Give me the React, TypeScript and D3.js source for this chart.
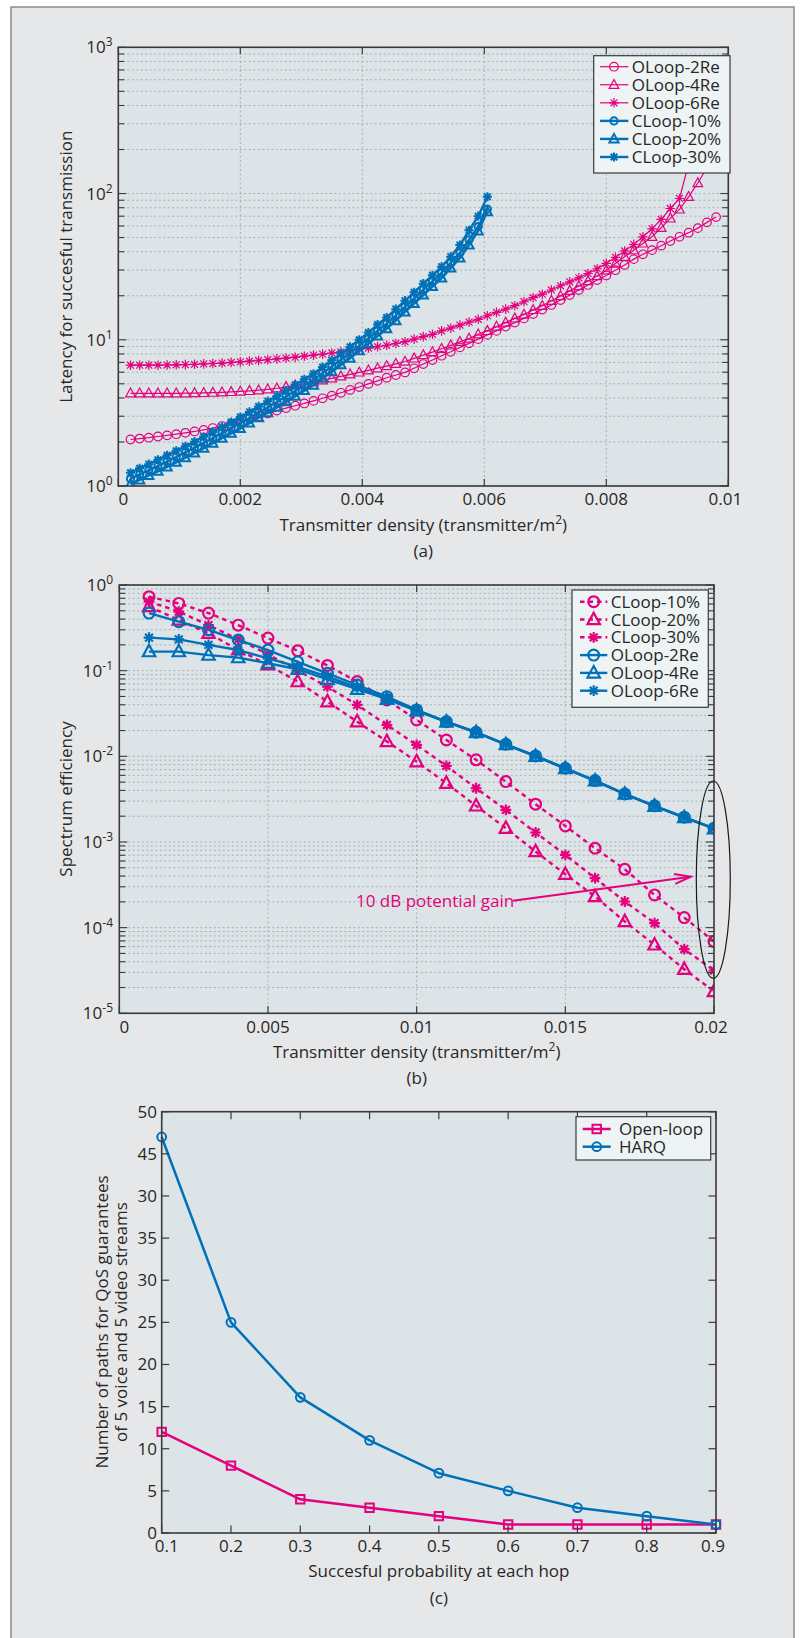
import React from 'react';
import * as d3 from 'd3';

// ---------------- DATA ----------------
// (a) Latency vs transmitter density
const xA = [0.0002, 0.00035, 0.0005, 0.00065, 0.0008, 0.00095, 0.0011, 0.00125, 0.0014, 0.00155, 0.0017, 0.00185, 0.002, 0.00215, 0.0023, 0.00245, 0.0026, 0.00275, 0.0029, 0.00305, 0.0032, 0.00335, 0.0035, 0.00365, 0.0038, 0.00395, 0.0041, 0.00425, 0.0044, 0.00455, 0.0047, 0.00485, 0.005, 0.00515, 0.0053, 0.00545, 0.0056, 0.00575, 0.0059, 0.00605, 0.0062, 0.00635, 0.0065, 0.00665, 0.0068, 0.00695, 0.0071, 0.00725, 0.0074, 0.00755, 0.0077, 0.00785, 0.008, 0.00815, 0.0083, 0.00845, 0.0086, 0.00875, 0.0089, 0.00905, 0.0092, 0.00935, 0.0095, 0.00965, 0.0098];
const oloop2A = [2.08, 2.11, 2.14, 2.18, 2.22, 2.26, 2.31, 2.36, 2.42, 2.49, 2.57, 2.66, 2.75, 2.87, 3.0, 3.13, 3.28, 3.41, 3.54, 3.67, 3.82, 3.98, 4.15, 4.34, 4.54, 4.75, 4.99, 5.24, 5.5, 5.74, 5.98, 6.38, 6.82, 7.27, 7.78, 8.28, 8.87, 9.45, 10.1, 10.8, 11.5, 12.3, 13.1, 14, 15, 16.1, 17.3, 18.7, 20.2, 21.9, 23.7, 25.6, 27.5, 29.9, 32.5, 35.6, 38.4, 41, 44, 47.3, 50.6, 54, 58, 63.5, 69];
const oloop4A = [4.3, 4.3, 4.3, 4.3, 4.3, 4.3, 4.31, 4.32, 4.33, 4.35, 4.37, 4.4, 4.43, 4.47, 4.52, 4.58, 4.66, 4.76, 4.88, 5.0, 5.14, 5.29, 5.45, 5.62, 5.8, 5.98, 6.18, 6.39, 6.61, 6.85, 7.1, 7.46, 7.86, 8.24, 8.68, 9.15, 9.69, 10.2, 10.9, 11.5, 12.3, 13.1, 14, 14.9, 16, 17.1, 18.5, 19.9, 21.6, 23.3, 25.2, 27.3, 29.9, 33.2, 36.9, 41, 45.6, 50.6, 58.3, 67.6, 77.9, 94.9, 118, 150, 190];
const oloop6A = [6.7, 6.7, 6.7, 6.7, 6.72, 6.74, 6.76, 6.8, 6.84, 6.88, 6.93, 7.0, 7.06, 7.14, 7.22, 7.3, 7.4, 7.5, 7.6, 7.72, 7.85, 7.98, 8.12, 8.27, 8.43, 8.6, 8.78, 8.97, 9.17, 9.43, 9.7, 10.1, 10.5, 10.9, 11.5, 12, 12.6, 13.2, 13.8, 14.6, 15.4, 16.2, 17.1, 18.2, 19.4, 20.5, 21.9, 23.4, 24.9, 26.5, 28.4, 30.6, 33.3, 36.6, 40.5, 44.9, 50.6, 57.4, 66.5, 79, 92.5, 160, 230, 330, 470];
const cloop10A = [1.12, 1.2, 1.28, 1.37, 1.47, 1.58, 1.7, 1.83, 1.97, 2.13, 2.3, 2.49, 2.69, 2.92, 3.18, 3.45, 3.75, 4.09, 4.47, 4.88, 5.32, 5.92, 6.58, 7.31, 8.13, 9.12, 10.2, 11.5, 12.9, 14.7, 16.8, 19.2, 22, 25.1, 28.7, 33.6, 39.3, 48.3, 59.4, 78.3];
const cloop20A = [1.03, 1.1, 1.18, 1.26, 1.35, 1.45, 1.56, 1.68, 1.81, 1.96, 2.12, 2.29, 2.47, 2.69, 2.93, 3.17, 3.45, 3.76, 4.11, 4.49, 4.89, 5.45, 6.05, 6.73, 7.48, 8.39, 9.38, 10.6, 11.9, 13.5, 15.5, 17.7, 20.2, 23.1, 26.4, 30.9, 36.2, 44.4, 55.5, 75];
const cloop30A = [1.23, 1.32, 1.41, 1.51, 1.62, 1.74, 1.87, 2.01, 2.17, 2.34, 2.53, 2.74, 2.96, 3.21, 3.5, 3.8, 4.13, 4.5, 4.92, 5.37, 5.85, 6.51, 7.24, 8.04, 8.94, 10.0, 11.2, 12.7, 14.2, 16.2, 18.5, 21.1, 24.2, 27.6, 31.6, 37, 44.4, 56, 70, 95];
const xTicksA = [0, 0.002, 0.004, 0.006, 0.008, 0.01];
const xTickLabelsA = ['0', '0.002', '0.004', '0.006', '0.008', '0.01'];
const yExpA = [0, 1, 2, 3];

// (b) Spectrum efficiency vs transmitter density
const xB = [0.001, 0.002, 0.003, 0.004, 0.005, 0.006, 0.007, 0.008, 0.009, 0.01, 0.011, 0.012, 0.013, 0.014, 0.015, 0.016, 0.017, 0.018, 0.019, 0.02];
const cloop10B = [0.73, 0.61, 0.47, 0.34, 0.24, 0.171, 0.115, 0.0745, 0.0455, 0.0266, 0.0155, 0.0091, 0.00507, 0.00276, 0.00154, 0.000845, 0.00048, 0.000241, 0.000131, 6.9e-5];
const cloop20B = [0.56, 0.39, 0.273, 0.175, 0.117, 0.0745, 0.0435, 0.0254, 0.0149, 0.00867, 0.00485, 0.00264, 0.00145, 0.000773, 0.00042, 0.000231, 0.000118, 6.3e-5, 3.27e-5, 1.8e-5];
const cloop30B = [0.64, 0.49, 0.34, 0.232, 0.155, 0.1, 0.065, 0.0398, 0.0232, 0.0136, 0.00773, 0.00424, 0.00237, 0.00129, 0.000707, 0.000378, 0.000202, 0.000113, 5.6e-5, 3.16e-5];
const oloop2B = [0.47, 0.373, 0.3, 0.228, 0.174, 0.127, 0.093, 0.068, 0.0497, 0.0348, 0.0254, 0.0191, 0.0138, 0.0101, 0.00726, 0.00521, 0.00364, 0.00264, 0.00195, 0.00145];
const oloop4B = [0.167, 0.167, 0.152, 0.142, 0.122, 0.104, 0.079, 0.0607, 0.0464, 0.034, 0.0252, 0.019, 0.0137, 0.01, 0.0072, 0.00518, 0.00362, 0.00262, 0.00193, 0.00143];
const oloop6B = [0.243, 0.232, 0.2, 0.174, 0.139, 0.111, 0.085, 0.064, 0.0476, 0.0344, 0.0253, 0.019, 0.0138, 0.0101, 0.00723, 0.0052, 0.00363, 0.00263, 0.00194, 0.00144];
const xTicksB = [0, 0.005, 0.01, 0.015, 0.02];
const xTickLabelsB = ['0', '0.005', '0.01', '0.015', '0.02'];
const yExpB = [0, -1, -2, -3, -4, -5];
const annotTextB = '10 dB potential gain';
const annotTextPosB = [0.00796, 2.05e-4];
const annotArrowFromB = [0.01324, 2.06e-4];
const annotArrowToB = [0.01922, 3.93e-4];
const ellipseB = { x: 0.02, yTop: 5.15e-3, yBottom: 2.57e-5 };

// (c) Number of paths vs success probability
const probC = [0.1, 0.2, 0.3, 0.4, 0.5, 0.6, 0.7, 0.8, 0.9];
const openLoopC = [12, 8, 4, 3, 2, 1, 1, 1, 1];
const harqC = [47, 25, 16.1, 11, 7.1, 5, 3, 2, 1];
const xTickLabelsC = ['0.1', '0.2', '0.3', '0.4', '0.5', '0.6', '0.7', '0.8', '0.9'];
const yTicksC = [0, 5, 10, 15, 20, 25, 30, 35, 40, 45, 50];
const yTickLabelsC = ['0', '5', '10', '15', '20', '25', '30', '35', '30', '45', '50'];

// ---------------- STYLE ----------------
const PINK = '#e5007e';
const BLUE = '#0071b8';
const FONT = "'Open Sans', 'DejaVu Sans', sans-serif";
const TXT = '#272727';
const PLOT_BG = '#dce4e7';
const FRAME_BG = '#e6e7e9';
const LEG_BG = '#eef3f4';
const AXIS = '#3a3a3a';
const GRID = '#a9b0b3';

type MType = 'circle' | 'triangle' | 'star' | 'square';

function Mk({ t, x, y, s, c, w }: { t: MType; x: number; y: number; s: number; c: string; w: number }) {
  if (t === 'circle') return <circle cx={x} cy={y} r={s} fill="none" stroke={c} strokeWidth={w} />;
  let d = '';
  if (t === 'triangle') d = `M0,${-s * 1.1}L${s},${s * 0.75}L${-s},${s * 0.75}Z`;
  else if (t === 'square') d = `M${-s},${-s}H${s}V${s}H${-s}Z`;
  else {
    const a = s * 0.72;
    d = `M${-s},0H${s}M0,${-s}V${s}M${-a},${-a}L${a},${a}M${-a},${a}L${a},${-a}`;
  }
  return <path d={d} transform={`translate(${x},${y})`} fill="none" stroke={c} strokeWidth={w} strokeLinejoin="miter" />;
}

interface Series {
  name: string; xs: number[]; ys: number[]; color: string; marker: MType;
  lw: number; mw: number; ms: number; dash?: string;
}

function SeriesG({ s, xs, ys }: { s: Series; xs: (v: number) => number; ys: (v: number) => number }) {
  const line = d3.line<number>().x((_, i) => xs(s.xs[i])).y((d) => ys(d));
  return (
    <g>
      <path d={line(s.ys) || ''} fill="none" stroke={s.color} strokeWidth={s.lw} strokeDasharray={s.dash} strokeLinejoin="round" />
      {s.ys.map((v, i) => (
        <Mk key={i} t={s.marker} x={xs(s.xs[i])} y={ys(v)} s={s.ms} c={s.color} w={s.mw} />
      ))}
    </g>
  );
}

function Legend({ x, y, w, h, rows, series, lx0, lx1, mx, tx }: {
  x: number; y: number; w: number; h: number; rows: number[]; series: Series[];
  lx0: number; lx1: number; mx: number; tx: number;
}) {
  return (
    <g>
      <rect x={x} y={y} width={w} height={h} fill={LEG_BG} stroke={AXIS} strokeWidth={1.2} />
      {series.map((s, i) => (
        <g key={i}>
          <line x1={lx0} x2={lx1} y1={rows[i]} y2={rows[i]} stroke={s.color} strokeWidth={s.lw} strokeDasharray={s.dash} />
          <Mk t={s.marker} x={mx} y={rows[i]} s={s.ms} c={s.color} w={s.mw} />
          <text x={tx} y={rows[i] + 6} fontSize={17} fill={TXT} fontFamily={FONT}>{s.name}</text>
        </g>
      ))}
    </g>
  );
}

function LogLabel({ x, y, e }: { x: number; y: number; e: number }) {
  return (
    <text x={x} y={y + 6} textAnchor="end" fontSize={17} fill={TXT} fontFamily={FONT}>
      <tspan>10</tspan>
      <tspan dy={-7} fontSize={12}>{String(e)}</tspan>
    </text>
  );
}

function isMajorLog(v: number) {
  const l = Math.log10(v);
  return Math.abs(l - Math.round(l)) < 1e-6;
}

function LogAxesFrame({ xs, ys, xTicks, xLabels, yExps, labelBaseline, labelRight }: {
  xs: d3.ScaleLinear<number, number>; ys: d3.ScaleLogarithmic<number, number>;
  xTicks: number[]; xLabels: string[]; yExps: number[]; labelBaseline: number; labelRight: number;
}) {
  const [x0, x1] = xs.range();
  const [y0, y1] = ys.range(); // y0 bottom, y1 top
  const yt = ys.ticks();
  return (
    <g>
      {/* ticks */}
      {xTicks.map((t, i) => (
        <g key={'xt' + i}>
          <line x1={xs(t)} x2={xs(t)} y1={y0} y2={y0 - 7} stroke={AXIS} strokeWidth={1.2} />
          <line x1={xs(t)} x2={xs(t)} y1={y1} y2={y1 + 7} stroke={AXIS} strokeWidth={1.2} />
        </g>
      ))}
      {yt.map((t, i) => {
        const L = isMajorLog(t) ? 8 : 6;
        return (
          <g key={'yt' + i}>
            <line x1={x0} x2={x0 + L} y1={ys(t)} y2={ys(t)} stroke={AXIS} strokeWidth={1.1} />
            <line x1={x1} x2={x1 - L} y1={ys(t)} y2={ys(t)} stroke={AXIS} strokeWidth={1.1} />
          </g>
        );
      })}
      <rect x={x0} y={y1} width={x1 - x0} height={y0 - y1} fill="none" stroke={AXIS} strokeWidth={1.6} />
      {xTicks.map((t, i) => {
        const shift = i === 0 ? 5 : i === xTicks.length - 1 ? -3 : 0;
        return (
          <text key={'xl' + i} x={xs(t) + shift} y={labelBaseline} textAnchor="middle" fontSize={17} fill={TXT} fontFamily={FONT}>{xLabels[i]}</text>
        );
      })}
      {yExps.map((e) => (
        <LogLabel key={'yl' + e} x={labelRight} y={ys(Math.pow(10, e))} e={e} />
      ))}
    </g>
  );
}

function LogGrid({ xs, ys, xTicks }: { xs: d3.ScaleLinear<number, number>; ys: d3.ScaleLogarithmic<number, number>; xTicks: number[] }) {
  const [x0, x1] = xs.range();
  const [y0, y1] = ys.range();
  return (
    <g stroke={GRID} strokeWidth={1} strokeDasharray="2,2.5">
      {xTicks.slice(1, -1).map((t, i) => (
        <line key={'gx' + i} x1={xs(t)} x2={xs(t)} y1={y0} y2={y1} />
      ))}
      {ys.ticks().map((t, i) => (
        <line key={'gy' + i} x1={x0} x2={x1} y1={ys(t)} y2={ys(t)} />
      ))}
    </g>
  );
}

export default function App() {
  // ---- scales ----
  const xa = d3.scaleLinear().domain([0, 0.01]).range([118.3, 728.3]);
  const ya = d3.scaleLog().domain([1, 1000]).range([486, 47.3]);
  const xb = d3.scaleLinear().domain([0, 0.02]).range([119.3, 714]);
  const yb = d3.scaleLog().domain([1e-5, 1]).range([1013.3, 585]);
  const xc = d3.scaleLinear().domain([0.1, 0.9]).range([161.7, 716]);
  const yc = d3.scaleLinear().domain([0, 50]).range([1533, 1111.7]);

  const xBlueA = xA.slice(0, cloop10A.length);

  const seriesA: Series[] = [
    { name: 'OLoop-2Re', xs: xA, ys: oloop2A, color: PINK, marker: 'circle', lw: 1.2, mw: 1.2, ms: 4.3 },
    { name: 'OLoop-4Re', xs: xA, ys: oloop4A, color: PINK, marker: 'triangle', lw: 1.2, mw: 1.2, ms: 4.8 },
    { name: 'OLoop-6Re', xs: xA, ys: oloop6A, color: PINK, marker: 'star', lw: 1.2, mw: 1.2, ms: 4.8 },
    { name: 'CLoop-10%', xs: xBlueA, ys: cloop10A, color: BLUE, marker: 'circle', lw: 2.4, mw: 2, ms: 3.6 },
    { name: 'CLoop-20%', xs: xBlueA, ys: cloop20A, color: BLUE, marker: 'triangle', lw: 2.4, mw: 2, ms: 4.6 },
    { name: 'CLoop-30%', xs: xBlueA, ys: cloop30A, color: BLUE, marker: 'star', lw: 2.4, mw: 2, ms: 4.6 },
  ];
  const seriesB: Series[] = [
    { name: 'CLoop-10%', xs: xB, ys: cloop10B, color: PINK, marker: 'circle', lw: 2.4, mw: 2.2, ms: 5.4, dash: '4.5,4' },
    { name: 'CLoop-20%', xs: xB, ys: cloop20B, color: PINK, marker: 'triangle', lw: 2.4, mw: 2.2, ms: 6.2, dash: '4.5,4' },
    { name: 'CLoop-30%', xs: xB, ys: cloop30B, color: PINK, marker: 'star', lw: 2.4, mw: 2.2, ms: 5.4, dash: '4.5,4' },
    { name: 'OLoop-2Re', xs: xB, ys: oloop2B, color: BLUE, marker: 'circle', lw: 2.4, mw: 2.2, ms: 5.4 },
    { name: 'OLoop-4Re', xs: xB, ys: oloop4B, color: BLUE, marker: 'triangle', lw: 2.4, mw: 2.2, ms: 6.2 },
    { name: 'OLoop-6Re', xs: xB, ys: oloop6B, color: BLUE, marker: 'star', lw: 2.4, mw: 2.2, ms: 5.4 },
  ];
  const seriesC: Series[] = [
    { name: 'Open-loop', xs: probC, ys: openLoopC, color: PINK, marker: 'square', lw: 2.5, mw: 2, ms: 4.2 },
    { name: 'HARQ', xs: probC, ys: harqC, color: BLUE, marker: 'circle', lw: 2.5, mw: 2, ms: 4.4 },
  ];

  const legRowsA = [0, 1, 2, 3, 4, 5].map((k) => 66.7 + k * 18.06);
  const legRowsB = [0, 1, 2, 3, 4, 5].map((k) => 601.7 + k * 17.8);
  const legRowsC = [1129, 1146.7];

  // annotation geometry for (b)
  const aFrom = [xb(annotArrowFromB[0]), yb(annotArrowFromB[1])];
  const aTo = [xb(annotArrowToB[0]), yb(annotArrowToB[1])];
  const ang = Math.atan2(aTo[1] - aFrom[1], aTo[0] - aFrom[0]);
  const hl = 17, ha = 0.3;
  const b1 = [aTo[0] - hl * Math.cos(ang - ha), aTo[1] - hl * Math.sin(ang - ha)];
  const b2 = [aTo[0] - hl * Math.cos(ang + ha), aTo[1] - hl * Math.sin(ang + ha)];
  const eTop = yb(ellipseB.yTop), eBot = yb(ellipseB.yBottom);

  return (
    <svg width={803} height={1638} style={{ position: 'absolute', left: 0, top: 0 }} fontFamily={FONT}>
      <defs>
        <clipPath id="clipA"><rect x={118.3} y={47.3} width={610} height={438.7} /></clipPath>
        <clipPath id="clipB"><rect x={119.3} y={585} width={594.7} height={428.3} /></clipPath>
      </defs>
      <rect x={0} y={0} width={803} height={1638} fill="#ffffff" />
      <rect x={11} y={7} width={783} height={1640} fill={FRAME_BG} stroke="#8a8a8a" strokeWidth={1.5} />

      {/* ---------- (a) ---------- */}
      <rect x={118.3} y={47.3} width={610} height={438.7} fill={PLOT_BG} />
      <LogGrid xs={xa} ys={ya} xTicks={xTicksA} />
      <g clipPath="url(#clipA)">
        {seriesA.map((s, i) => <SeriesG key={i} s={s} xs={xa} ys={ya} />)}
      </g>
      <LogAxesFrame xs={xa} ys={ya} xTicks={xTicksA} xLabels={xTickLabelsA} yExps={yExpA} labelBaseline={505} labelRight={112.7} />
      <Legend x={593.7} y={55.7} w={136.3} h={117.3} rows={legRowsA} series={seriesA} lx0={600} lx1={628.3} mx={614} tx={631.7} />
      <text x={423.3} y={531} textAnchor="middle" fontSize={17} fill={TXT}>
        <tspan>Transmitter density (transmitter/m</tspan><tspan dy={-7} fontSize={12}>2</tspan><tspan dy={7}>)</tspan>
      </text>
      <text x={423.3} y={557} textAnchor="middle" fontSize={17} fill={TXT}>(a)</text>
      <text transform="translate(71.7,266.7) rotate(-90)" textAnchor="middle" fontSize={17} fill={TXT}>Latency for succesful transmission</text>

      {/* ---------- (b) ---------- */}
      <rect x={119.3} y={585} width={594.7} height={428.3} fill={PLOT_BG} />
      <LogGrid xs={xb} ys={yb} xTicks={xTicksB} />
      <g clipPath="url(#clipB)">
        {seriesB.map((s, i) => <SeriesG key={i} s={s} xs={xb} ys={yb} />)}
      </g>
      <LogAxesFrame xs={xb} ys={yb} xTicks={xTicksB} xLabels={xTickLabelsB} yExps={yExpB} labelBaseline={1032.7} labelRight={113} />
      <Legend x={572} y={590} w={136.3} h={117.3} rows={legRowsB} series={seriesB} lx0={580} lx1={607.3} mx={593.7} tx={610.7} />
      <text x={xb(annotTextPosB[0])} y={yb(annotTextPosB[1]) + 6} fontSize={17} fill={PINK}>{annotTextB}</text>
      <line x1={aFrom[0]} y1={aFrom[1]} x2={aTo[0]} y2={aTo[1]} stroke={PINK} strokeWidth={2} />
      <polyline points={`${b1[0]},${b1[1]} ${aTo[0]},${aTo[1]} ${b2[0]},${b2[1]}`} fill="none" stroke={PINK} strokeWidth={2} />
      <ellipse cx={xb(ellipseB.x) - 0.7} cy={(eTop + eBot) / 2} rx={17} ry={(eBot - eTop) / 2} fill="none" stroke="#1a1a1a" strokeWidth={1.2} />
      <text x={416.7} y={1057.7} textAnchor="middle" fontSize={17} fill={TXT}>
        <tspan>Transmitter density (transmitter/m</tspan><tspan dy={-7} fontSize={12}>2</tspan><tspan dy={7}>)</tspan>
      </text>
      <text x={416.7} y={1083.5} textAnchor="middle" fontSize={17} fill={TXT}>(b)</text>
      <text transform="translate(72,799) rotate(-90)" textAnchor="middle" fontSize={17} fill={TXT}>Spectrum efficiency</text>

      {/* ---------- (c) ---------- */}
      <rect x={161.7} y={1111.7} width={554.3} height={421.3} fill={PLOT_BG} />
      {seriesC.map((s, i) => <SeriesG key={i} s={s} xs={xc} ys={yc} />)}
      {probC.map((t, i) => (
        <g key={'cx' + i}>
          <line x1={xc(t)} x2={xc(t)} y1={1533} y2={1525.5} stroke={AXIS} strokeWidth={1.2} />
          <line x1={xc(t)} x2={xc(t)} y1={1111.7} y2={1119.2} stroke={AXIS} strokeWidth={1.2} />
          <text x={xc(t) + (i === 0 ? 5 : i === probC.length - 1 ? -3 : 0)} y={1551.7} textAnchor="middle" fontSize={17} fill={TXT}>{xTickLabelsC[i]}</text>
        </g>
      ))}
      {yTicksC.map((t, i) => (
        <g key={'cy' + i}>
          <line x1={161.7} x2={169.2} y1={yc(t)} y2={yc(t)} stroke={AXIS} strokeWidth={1.2} />
          <line x1={716} x2={708.5} y1={yc(t)} y2={yc(t)} stroke={AXIS} strokeWidth={1.2} />
          <text x={157} y={yc(t) + 6} textAnchor="end" fontSize={17} fill={TXT}>{yTickLabelsC[i]}</text>
        </g>
      ))}
      <rect x={161.7} y={1111.7} width={554.3} height={421.3} fill="none" stroke={AXIS} strokeWidth={1.6} />
      <Legend x={576} y={1116.7} w={134.7} h={43.3} rows={legRowsC} series={seriesC} lx0={582.7} lx1={610.7} mx={596.7} tx={619} />
      <text x={438.9} y={1577} textAnchor="middle" fontSize={17} fill={TXT}>Succesful probability at each hop</text>
      <text x={438.9} y={1603.5} textAnchor="middle" fontSize={17} fill={TXT}>(c)</text>
      <text transform="translate(108.3,1322) rotate(-90)" textAnchor="middle" fontSize={17} fill={TXT}>Number of paths for QoS guarantees</text>
      <text transform="translate(126.7,1322) rotate(-90)" textAnchor="middle" fontSize={17} fill={TXT}>of 5 voice and 5 video streams</text>
    </svg>
  );
}
